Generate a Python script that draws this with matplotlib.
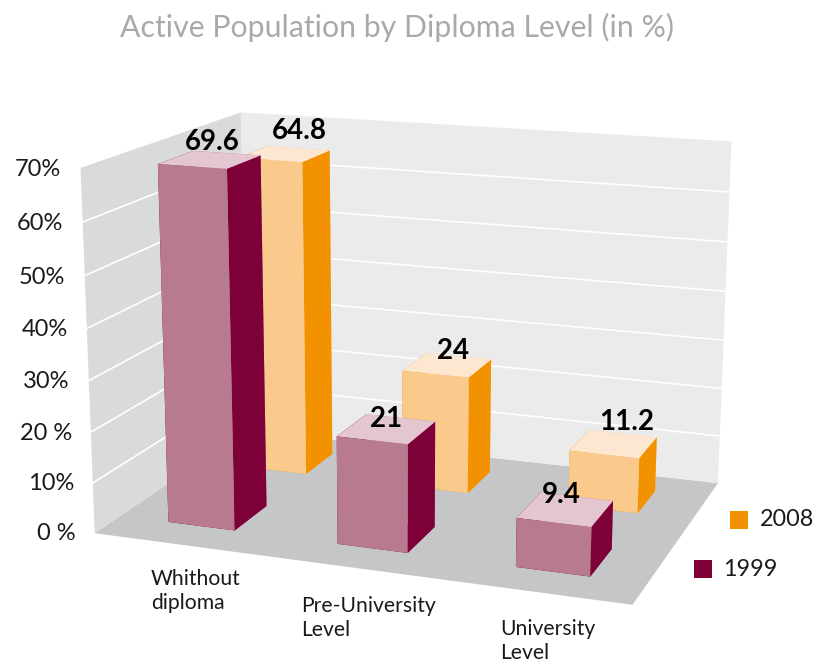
import numpy as np
import matplotlib
matplotlib.use('Agg')
import matplotlib.pyplot as plt
from matplotlib.patches import Rectangle
from mpl_toolkits.mplot3d import proj3d
from mpl_toolkits.mplot3d.art3d import Poly3DCollection

categories = ['Whithout\ndiploma', 'Pre-University\nLevel', 'University\nLevel']
values_1999 = [69.6, 21, 9.4]
values_2008 = [64.8, 24, 11.2]
labels_1999 = ['69.6', '21', '9.4']
labels_2008 = ['64.8', '24', '11.2']
z_ticks = [0, 10, 20, 30, 40, 50, 60, 70]
z_labels = ['0 %', '10%', '20 %', '30%', '40%', '50%', '60%', '70%']

plt.rcParams['font.family'] = ['Lato', 'DejaVu Sans']
W, H = 816, 663
fig = plt.figure(figsize=(W / 100, H / 100), dpi=100)

# square axes, camera values fitted against the corners of the box
L, cx, cy = 728.0, 407.7, 318.6
ax = fig.add_axes([(cx - L / 2) / W, (cy - L / 2) / H, L / W, L / H], projection='3d')
ax.set_proj_type('persp', focal_length=0.5427)
ax.view_init(elev=14.73, azim=-70.16, roll=-0.11)
ax.set_box_aspect((2.651, 1.771, 1.776), zoom=1)
ax.set_axis_off()
ax.computed_zorder = False

xmax, ymax, zmax = 3.0, 1.0, 70.0
ax.set_xlim(0, xmax)
ax.set_ylim(0, ymax)
ax.set_zlim(0, zmax)
ax.set_xticks([])
ax.set_yticks([])
ax.set_zticks([])

# walls and floor
floor = [(0, 0, 0), (xmax, 0, 0), (xmax, ymax, 0), (0, ymax, 0)]
back = [(0, ymax, 0), (xmax, ymax, 0), (xmax, ymax, zmax), (0, ymax, zmax)]
left = [(0, 0, 0), (0, ymax, 0), (0, ymax, zmax), (0, 0, zmax)]
for poly, col in [(floor, '#c5c6c8'), (back, '#ebebeb'), (left, '#d9dadb')]:
    ax.add_collection3d(Poly3DCollection([poly], facecolors=col, edgecolors='none', zorder=1))

for z in z_ticks[1:-1]:
    ax.plot([0, 0, xmax], [0, ymax, ymax], [z, z, z], color='white', lw=1.2, zorder=2)

# bars, all in one collection so they get depth sorted together
bw = 0.4
x = np.array([0.295, 1.3, 2.3])
xs = np.concatenate([x, x - 0.011])
bd = [0.215, 0.215, 0.215, 0.205, 0.205, 0.205]
ys = np.array([0.15, 0.15, 0.15, 0.665, 0.665, 0.665])
tops = np.array(values_1999 + values_2008)
c99 = ['#7d0039', '#e3c6d0', '#b87a8f', '#b87a8f', '#7d0039', '#7d0039']
c08 = ['#f39200', '#fee7d0', '#fac98c', '#fac98c', '#f39200', '#f39200']
colors = c99 * 3 + c08 * 3
ax.bar3d(xs, ys, np.zeros(6), bw, bd, tops, color=colors, shade=False, zorder=3)


def label3d(x3, y3, z3, s, **kw):
    # plain 2D text at the projected point of a 3D position
    xp, yp, _ = proj3d.proj_transform(x3, y3, z3, ax.get_proj())
    ax.text2D(xp, yp, s, transform=ax.transData, va='center', zorder=5, **kw)


# small nudges so the value labels sit where they do in the original
label_dx = [0.017, 0.0, -0.022, 0.094, 0.034, 0.071]
label_dz = [3.4, 1.9, 2.6, 4.9, 3.1, 4.8]
for xi, yi, di, t, lab, dx, dz in zip(xs, ys, bd, tops, labels_1999 + labels_2008, label_dx, label_dz):
    label3d(xi + bw / 2 + dx, yi + di / 2, t + dz, lab, ha='center',
            fontsize=20, fontweight='bold', color='black')

for z, lab in zip(z_ticks, z_labels):
    label3d(-0.115, 0, z - 0.6, lab, ha='right', fontsize=17, color='#1a1a1a')


def px(a, b):
    return a / W, 1 - b / H


fig.text(*px(397, 27), 'Active Population by Diploma Level (in %)', ha='center', va='center',
         fontsize=21.8, color='#a7a9ac')
for (a, b), lab in zip([(151, 591), (301, 618), (500, 641)], categories):
    fig.text(*px(a, b), lab, ha='left', va='center', fontsize=15.2, color='#1a1a1a', linespacing=1.3)

for a, b, col, lab, gap in [(730, 511, '#f39200', '2008', 30), (694, 560, '#7d0039', '1999', 29)]:
    fig.add_artist(Rectangle(px(a, b + 18), 18 / W, 18 / H, transform=fig.transFigure, color=col, lw=0))
    fig.text(*px(a + gap, b + 9), lab, ha='left', va='center', fontsize=16.8, color='#1a1a1a')

fig.savefig('out.png', dpi=100)
